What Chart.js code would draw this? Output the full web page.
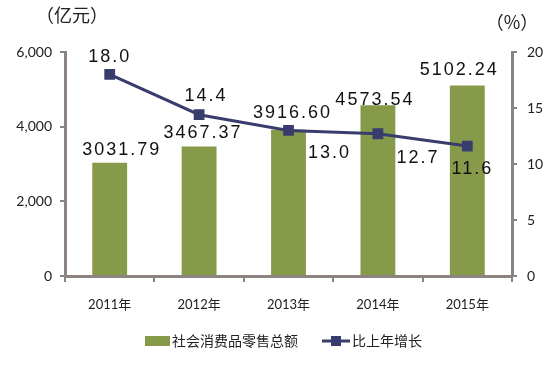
<!DOCTYPE html>
<html><head><meta charset="utf-8">
<script src="https://cdn.jsdelivr.net/npm/chart.js@4/dist/chart.umd.min.js"></script>
<style>html,body{margin:0;padding:0;background:#fff}#wrap{width:558px;height:372px}</style>
</head><body><div id="wrap"><canvas id="c" width="558" height="372"></canvas></div>
<script>
const categories = ['2011年','2012年','2013年','2014年','2015年'];
const retailSales = [3031.79, 3467.37, 3916.60, 4573.54, 5102.24];
const growthRate = [18.0, 14.4, 13.0, 12.7, 11.6];
const leftTicks = [0, 2000, 4000, 6000];
const rightTicks = [0, 5, 10, 15, 20];
const seriesNames = ['社会消费品零售总额', '比上年增长'];

const AXIS = '#8b8480', GREEN = '#879a49', NAVY = '#383d6e';
const barLabelOffsets = [[12,-13],[4,-14],[4,-17],[-3,-5],[-8,-15]];
const lineLabelOffsets = [[0,-17],[7,-19],[41,23],[40,24],[5,23]];

const labelPlugin = {
  id: 'labels',
  afterDatasetsDraw(chart) {
    const ctx = chart.ctx;
    ctx.save();
    ctx.font = '18px "Liberation Sans", Arial, sans-serif';
    if ('letterSpacing' in ctx) ctx.letterSpacing = '2px';
    ctx.fillStyle = '#111';
    ctx.textAlign = 'center';
    ctx.textBaseline = 'middle';
    chart.getDatasetMeta(0).data.forEach((el, i) => {
      const o = barLabelOffsets[i];
      ctx.fillText(retailSales[i].toFixed(2), el.x + o[0], el.y + o[1]);
    });
    chart.getDatasetMeta(1).data.forEach((el, i) => {
      const o = lineLabelOffsets[i];
      ctx.fillText(growthRate[i].toFixed(1), el.x + o[0], el.y + o[1]);
    });
    if ('letterSpacing' in ctx) ctx.letterSpacing = '0px';
    // axis titles
    ctx.font = '18px "Noto Sans CJK SC", sans-serif';
    ctx.fillStyle = '#222';
    ctx.textAlign = 'center';
    ctx.fillText('（亿元）', 72, 15);
    ctx.fillText('（%）', 512, 22);
    // legend
    ctx.font = '14px "Noto Sans CJK SC", sans-serif';
    ctx.textAlign = 'left';
    const ly = 341;
    ctx.fillStyle = GREEN;
    ctx.fillRect(145, ly - 5, 25, 10);
    ctx.fillStyle = '#222';
    ctx.fillText(seriesNames[0], 172, ly);
    ctx.strokeStyle = NAVY; ctx.lineWidth = 3;
    ctx.beginPath(); ctx.moveTo(322, ly); ctx.lineTo(350, ly); ctx.stroke();
    ctx.fillStyle = NAVY; ctx.fillRect(331, ly - 5, 10, 10);
    ctx.fillStyle = '#222';
    ctx.fillText(seriesNames[1], 352, ly);
    ctx.restore();
  }
};

new Chart(document.getElementById('c'), {
  data: {
    labels: categories,
    datasets: [
      { type: 'bar', label: seriesNames[0], data: retailSales, backgroundColor: GREEN,
        yAxisID: 'y', categoryPercentage: 1, barPercentage: 0.39, order: 2 },
      { type: 'line', label: seriesNames[1], data: growthRate, borderColor: NAVY, borderWidth: 3,
        pointStyle: 'rect', pointRadius: 5.5, pointBackgroundColor: NAVY, pointBorderColor: NAVY,
        yAxisID: 'y1', order: 1, tension: 0 }
    ]
  },
  options: {
    responsive: false, animation: false,
    layout: { padding: { top: 52, left: 0, right: 0, bottom: 0 } },
    plugins: { legend: { display: false }, tooltip: { enabled: false } },
    scales: {
      x: {
        grid: { display: true, drawOnChartArea: false, drawTicks: true, tickLength: 6, color: AXIS, lineWidth: 2, offset: true },
        border: { color: AXIS, width: 3 },
        ticks: { color: '#222', font: { family: 'Lato, "Noto Sans CJK SC"', size: 13 }, padding: 15 },
        afterFit(s) { s.height = 96; }
      },
      y: {
        position: 'left', min: 0, max: 6000,
        afterBuildTicks(s) { s.ticks = leftTicks.map(v => ({ value: v })); },
        grid: { drawOnChartArea: false, drawTicks: true, tickLength: 5, color: AXIS, lineWidth: 2 },
        border: { color: AXIS, width: 3 },
        ticks: { color: '#222', font: { family: 'Lato, sans-serif', size: 14 }, padding: 8,
          callback: v => v.toLocaleString('en-US') },
        afterFit(s) { s.width = 65; }
      },
      y1: {
        position: 'right', min: 0, max: 20,
        afterBuildTicks(s) { s.ticks = rightTicks.map(v => ({ value: v })); },
        grid: { drawOnChartArea: false, drawTicks: true, tickLength: 5, color: AXIS, lineWidth: 2 },
        border: { color: AXIS, width: 3 },
        ticks: { color: '#222', font: { family: 'Lato, sans-serif', size: 14 }, padding: 10 },
        afterFit(s) { s.width = 46; }
      }
    }
  },
  plugins: [labelPlugin]
});
</script></body></html>
